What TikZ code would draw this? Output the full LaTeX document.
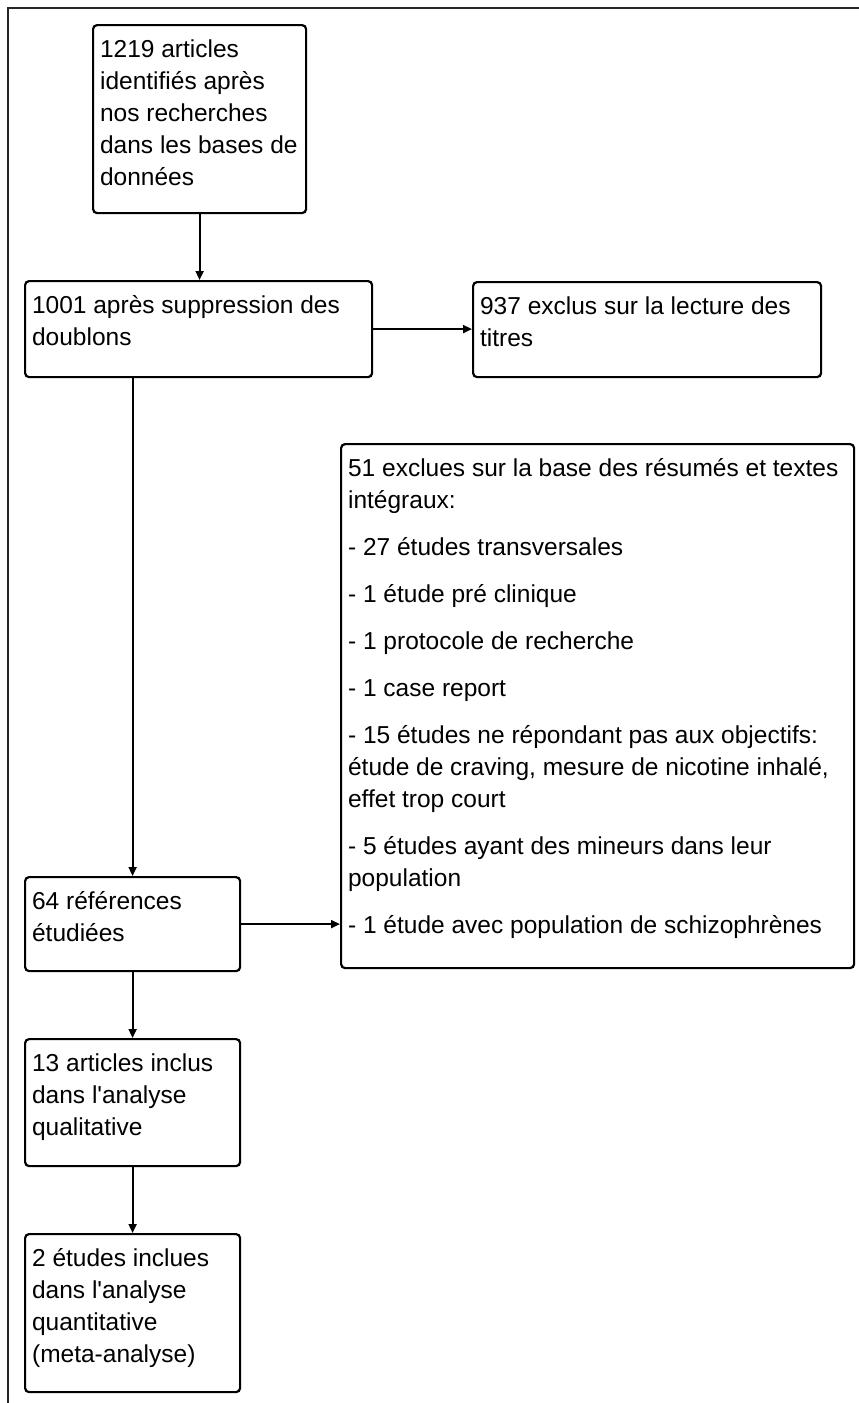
\documentclass[tikz,border=0pt]{standalone}
\usepackage{fontspec}
\setmainfont{Liberation Sans}
\usetikzlibrary{arrows.meta}
\newcommand{\bxt}[3]{\parbox[c][#2pt][t]{#1pt}{\raggedright\fontsize{24.5}{32}\selectfont\parskip=15pt\vspace*{\dimexpr 10pt-\parskip\relax}#3}}
\tikzset{
  flowbox/.style={draw=black, line width=2.2pt, rounded corners=4pt, inner xsep=7pt, inner ysep=0pt, anchor=north west, fill=white},
  flowarrow/.style={line width=2pt, -{Triangle[length=9pt,width=8pt]}},
  frameline/.style={line width=1.6pt, draw=black!85}
}
\begin{document}
\begin{tikzpicture}[x=1pt,y=-1pt]
\useasboundingbox (0,0) rectangle (859,1403);
\coordinate (fa) at (8,1403);
\coordinate (fb) at (8,8);
\coordinate (fc) at (859,8);
\draw[frameline] (fa) -- (fb) -- (fc);

\node[flowbox] (b1) at (92,24) {\bxt{199}{188}{\strut 1219 articles\\identifiés après\\nos recherches\\dans les bases de\\données}};
\node[flowbox] (b2) at (24,280) {\bxt{333}{96}{\strut 1001 après suppression des\\doublons}};
\node[flowbox] (b3) at (472,281) {\bxt{334}{95}{\strut 937 exclus sur la lecture des\\titres}};
\node[flowbox] (big) at (340,443) {\bxt{499}{524}{\strut 51 exclues sur la base des résumés et textes\\intégraux:\par
\strut - 27 études transversales\par
\strut - 1 étude pré clinique\par
\strut - 1 protocole de recherche\par
\strut - 1 case report\par
\strut - 15 études ne répondant pas aux objectifs:\\étude de craving, mesure de nicotine inhalé,\\effet trop court\par
\strut - 5 études ayant des mineurs dans leur\\population\par
\strut - 1 étude avec population de schizophrènes}};
\node[flowbox] (b64) at (24,876) {\bxt{201}{94}{\strut 64 références\\étudiées}};
\node[flowbox] (b13) at (24,1038) {\bxt{201}{127}{\strut 13 articles inclus\\dans l\textquotesingle analyse\\qualitative}};
\node[flowbox] (b2e) at (24,1233) {\bxt{201}{158}{\strut 2 études inclues\\dans l\textquotesingle analyse\\quantitative\\(meta-analyse)}};

\draw[flowarrow] (b1.south) -- (b2.north -| b1.south);
\draw[flowarrow] (b2.east) -- (b2.east -| b3.west);
\draw[flowarrow] (b2.south -| b64.north) -- (b64.north);
\draw[flowarrow] (b64.east) -- (b64.east -| big.west);
\draw[flowarrow] (b64.south) -- (b13.north);
\draw[flowarrow] (b13.south) -- (b2e.north);
\end{tikzpicture}
\end{document}
